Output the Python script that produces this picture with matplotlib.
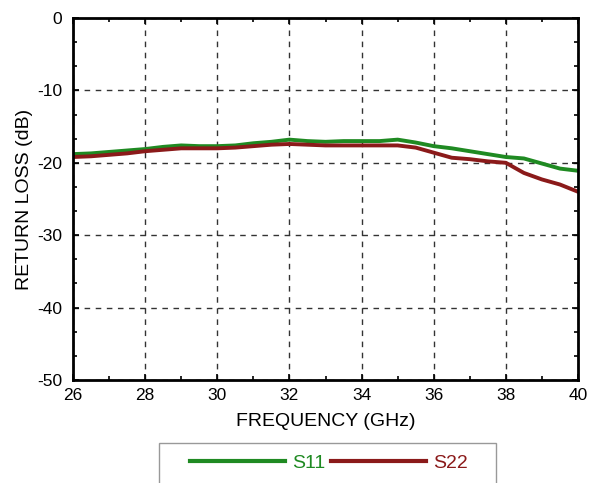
import numpy as np
import matplotlib
matplotlib.use("Agg")
import matplotlib.pyplot as plt
from matplotlib.ticker import MultipleLocator
from matplotlib.patches import Rectangle

plt.rcParams['font.family'] = ['Liberation Sans', 'DejaVu Sans']
plt.rcParams['axes.unicode_minus'] = False

freq = [26.0, 26.5, 27.0, 27.5, 28.0, 28.5, 29.0, 29.5, 30.0, 30.5, 31.0, 31.5,
        32.0, 32.5, 33.0, 33.5, 34.0, 34.5, 35.0, 35.5, 36.0, 36.5, 37.0, 37.5,
        38.0, 38.5, 39.0, 39.5, 40.0]
s11 = [-18.8, -18.7, -18.5, -18.3, -18.1, -17.8, -17.6, -17.7, -17.7, -17.6,
       -17.3, -17.1, -16.8, -17.0, -17.1, -17.0, -17.0, -17.0, -16.8, -17.2,
       -17.7, -18.0, -18.4, -18.8, -19.2, -19.4, -20.1, -20.8, -21.1]
s22 = [-19.2, -19.1, -18.9, -18.7, -18.4, -18.2, -18.0, -18.0, -18.0, -17.9,
       -17.7, -17.5, -17.4, -17.5, -17.6, -17.6, -17.6, -17.6, -17.6, -17.9,
       -18.6, -19.3, -19.5, -19.8, -20.0, -21.4, -22.3, -23.0, -24.0]
labels = ['S11', 'S22']
colors = ['#1f8a22', '#8b1a1a']

fig = plt.figure(figsize=(5.95, 4.83), dpi=100)
ax = fig.add_axes([73/595, 1-380/483, (578-73)/595, (380-18)/483])

for y, lab, c in zip([s11, s22], labels, colors):
    ax.plot(freq, y, color=c, lw=2.8, label=lab)

ax.set_xlim(26, 40)
ax.set_ylim(-50, 0)
ax.xaxis.set_major_locator(MultipleLocator(2))
ax.xaxis.set_minor_locator(MultipleLocator(1))
ax.yaxis.set_major_locator(MultipleLocator(10))
ax.yaxis.set_minor_locator(MultipleLocator(10/3))
ax.tick_params(which='both', direction='in', top=True, right=True, width=1.2, labelsize=12.5)
ax.tick_params(which='major', length=4)
ax.tick_params(which='minor', length=3)
ax.tick_params(axis='y', pad=8)
ax.tick_params(axis='x', pad=6)
ax.grid(True, which='major', color='#333333', linestyle=(0, (4, 4)), lw=1.0)
for s in ax.spines.values():
    s.set_linewidth(2)

ax.set_xlabel('FREQUENCY (GHz)', fontsize=14, labelpad=7)
ax.set_ylabel('RETURN LOSS (dB)', fontsize=14, labelpad=3)

# legend frame (extends past the bottom of the figure)
frame = Rectangle((159/595, -0.2), (496-159)/595, (483-443)/483 + 0.2,
                  transform=fig.transFigure, facecolor='white',
                  edgecolor='#999999', lw=1.0, zorder=1)
fig.add_artist(frame)

leg = fig.legend(loc='center left', bbox_to_anchor=(190/595, 1-463/483), ncol=2,
                 fontsize=14, handlelength=4.9, handletextpad=0.35, columnspacing=0.3,
                 borderpad=0, borderaxespad=0, frameon=False, labelcolor='linecolor')
leg.set_zorder(2)
for h in leg.get_lines():
    h.set_linewidth(3)

fig.savefig('out.png', dpi=100)
